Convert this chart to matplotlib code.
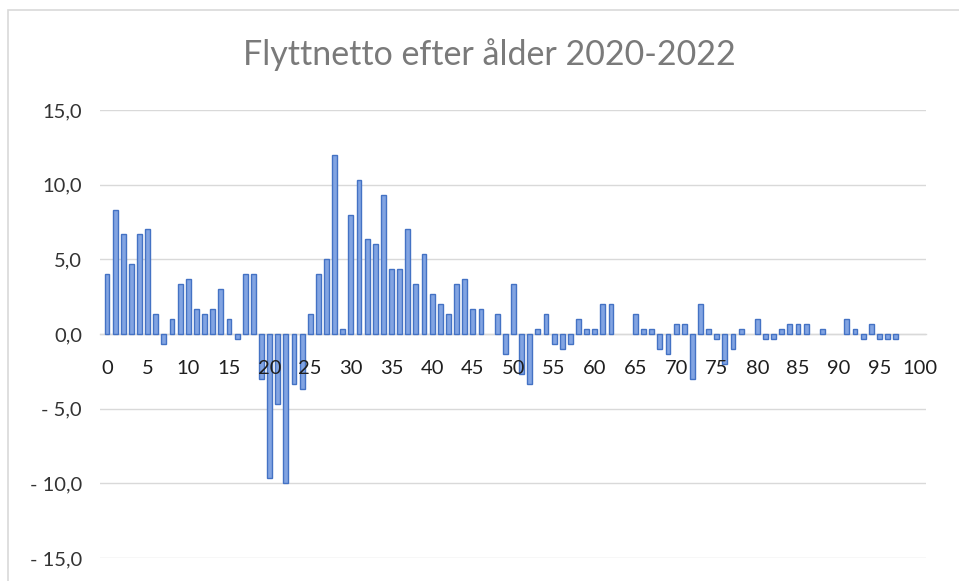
import matplotlib
matplotlib.use("Agg")
import matplotlib.pyplot as plt
from matplotlib.patches import Rectangle
from matplotlib.ticker import FixedLocator, FuncFormatter
import numpy as np

title = "Flyttnetto efter ålder 2020-2022"
ages = list(range(0, 101))
values = [
    4.0, 8.33, 6.67, 4.67, 6.67, 7.0, 1.33, -0.67, 1.0, 3.33,
    3.67, 1.67, 1.33, 1.67, 3.0, 1.0, -0.33, 4.0, 4.0, -3.0,
    -9.67, -4.67, -10.0, -3.33, -3.67, 1.33, 4.0, 5.0, 12.0, 0.33,
    8.0, 10.33, 6.33, 6.0, 9.33, 4.33, 4.33, 7.0, 3.33, 5.33,
    2.67, 2.0, 1.33, 3.33, 3.67, 1.67, 1.67, 0.0, 1.33, -1.33,
    3.33, -2.67, -3.33, 0.33, 1.33, -0.67, -1.0, -0.67, 1.0, 0.33,
    0.33, 2.0, 2.0, 0.0, 0.0, 1.33, 0.33, 0.33, -1.0, -1.33,
    0.67, 0.67, -3.0, 2.0, 0.33, -0.33, -2.0, -1.0, 0.33, 0.0,
    1.0, -0.33, -0.33, 0.33, 0.67, 0.67, 0.67, 0.0, 0.33, 0.0,
    0.0, 1.0, 0.33, -0.33, 0.67, -0.33, -0.33, -0.33, 0.0, 0.0,
    0.0,
]
x_ticks = list(range(0, 101, 5))
y_ticks = [-15, -10, -5, 0, 5, 10, 15]

W, H = 959, 581
fig = plt.figure(figsize=(W / 100, H / 100), dpi=100)
fig.patch.set_facecolor("white")

left, right, top, bottom = 100, 926, 110, 558
ax = fig.add_axes([left / W, 1 - bottom / H, (right - left) / W, (bottom - top) / H])

xs = [a for a, v in zip(ages, values) if v != 0]
vs = [v for v in values if v != 0]
ax.bar(xs, vs, width=0.6, color="#82A4E2", edgecolor="#4472C4", linewidth=1.0, zorder=3)

ax.set_xlim(-0.86, 100.74)
ax.set_ylim(-15, 15)

ax.yaxis.set_major_locator(FixedLocator(y_ticks))
def yfmt(v, pos):
    s = f"{abs(v):.1f}".replace(".", ",")
    return ("- " + s) if v < 0 else s
ax.yaxis.set_major_formatter(FuncFormatter(yfmt))
ax.grid(axis="y", color="#D9D9D9", linewidth=1.0, zorder=0)
ax.set_axisbelow(True)

ax.xaxis.set_major_locator(FixedLocator(x_ticks))
ax.set_xticklabels([str(t) for t in x_ticks])
ax.xaxis.set_zorder(5)

for s in ["top", "right", "left"]:
    ax.spines[s].set_visible(False)
ax.spines["bottom"].set_position(("data", 0))
ax.spines["bottom"].set_color("#D9D9D9")
ax.spines["bottom"].set_linewidth(1.0)
ax.spines["bottom"].set_zorder(2)

ax.tick_params(axis="x", length=0, pad=19, labelsize=14.5, labelcolor="#1F1F1F")
ax.tick_params(axis="y", length=0, pad=13, labelsize=14.5, labelcolor="#333333")
for lab in ax.get_xticklabels() + ax.get_yticklabels():
    lab.set_fontfamily("Lato")

fig.text(489 / W, 1 - 55 / H, title, ha="center", va="center",
         fontsize=24.5, color="#7A7A7A", fontfamily="Lato", fontweight="normal")

fig.add_artist(Rectangle((8 / W, -0.1), 2, 1.1 - 10 / H, transform=fig.transFigure,
                         fill=False, edgecolor="#D9D9D9", linewidth=1.2))

fig.savefig("out.png", dpi=100, facecolor="white")
